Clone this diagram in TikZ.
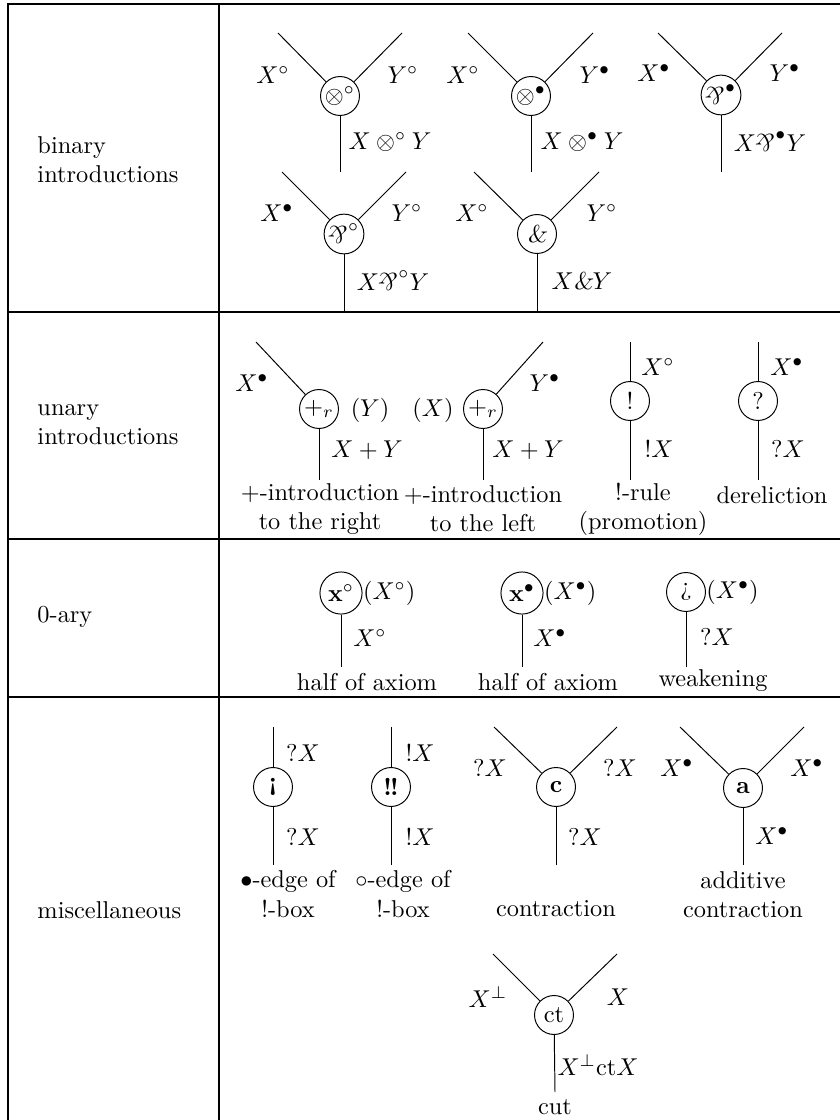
\documentclass[tikz,border=0pt]{standalone}
\usepackage{amssymb}
\usepackage{graphicx}
\newcommand{\myparr}{\mathord{\rotatebox[origin=c]{180}{\textsl{\&}}}}
\newcommand{\mywith}{\mathord{\textsl{\&}}}
\begin{document}
\begin{tikzpicture}[x=0.4107pt,y=-0.4107pt,
  cell/.style={draw,circle,minimum size=16pt,inner sep=0.5pt},
  bigcell/.style={cell,minimum size=17.3pt},
  lbl/.style={inner sep=0pt},
  captxt/.style={inner sep=0pt,align=center},
  rowlbl/.style={inner sep=0pt,align=left,anchor=west},
  rule/.style={line width=0.5pt}]
\useasboundingbox (0,0) rectangle (840,1120);
% table
\coordinate (tl) at (8,4); \coordinate (tr) at (840,4);
\coordinate (bl) at (8,1120); \coordinate (sept) at (219,4); \coordinate (sepb) at (219,1120);
\draw[rule] (tr) -- (tl) -- (bl);
\draw[rule] (sept) -- (sepb);
\coordinate (h1l) at (8,312); \coordinate (h1r) at (840,312);
\coordinate (h2l) at (8,539); \coordinate (h2r) at (840,539);
\coordinate (h3l) at (8,697); \coordinate (h3r) at (840,697);
\draw[rule] (h1l) -- (h1r); \draw[rule] (h2l) -- (h2r); \draw[rule] (h3l) -- (h3r);
% row labels
\node[rowlbl] (r1) at (37,160) {binary\\introductions};
\node[rowlbl] (r2) at (37,425) {unary\\introductions};
\node[rowlbl] (r3) at (37,617) {0-ary};
\node[rowlbl] (r4) at (37,910) {miscellaneous};
% ---- binary, first line
\node[cell] (a1) at (340,96) {$\otimes^\circ$};
\coordinate (a1l) at (278,33); \coordinate (a1r) at (402,33); \coordinate (a1b) at (340,172);
\draw (a1l) -- (a1); \draw (a1r) -- (a1); \draw (a1) -- (a1b);
\node[lbl] (a1x) at (273,75) {$X^\circ$};
\node[lbl] (a1y) at (403,75) {$Y^\circ$};
\node[lbl] (a1t) at (390,142) {$X\otimes^\circ Y$};
\node[cell] (a2) at (531,96) {$\otimes^\bullet$};
\coordinate (a2l) at (468,33); \coordinate (a2r) at (593,33); \coordinate (a2b) at (531,172);
\draw (a2l) -- (a2); \draw (a2r) -- (a2); \draw (a2) -- (a2b);
\node[lbl] (a2x) at (463,75) {$X^\circ$};
\node[lbl] (a2y) at (595,75) {$Y^\bullet$};
\node[lbl] (a2t) at (582,142) {$X\otimes^\bullet Y$};
\node[cell] (a3) at (721,95) {$\myparr^\bullet$};
\coordinate (a3l) at (658,33); \coordinate (a3r) at (782,33); \coordinate (a3b) at (721,172);
\draw (a3l) -- (a3); \draw (a3r) -- (a3); \draw (a3) -- (a3b);
\node[lbl] (a3x) at (654,73) {$X^\bullet$};
\node[lbl] (a3y) at (785,73) {$Y^\bullet$};
\node[lbl] (a3t) at (770,142) {$X\myparr^\bullet Y$};
% ---- binary, second line
\node[cell] (b1) at (344,234) {$\myparr^\circ$};
\coordinate (b1l) at (282,172); \coordinate (b1r) at (406,172); \coordinate (b1b) at (344,312);
\draw (b1l) -- (b1); \draw (b1r) -- (b1); \draw (b1) -- (b1b);
\node[lbl] (b1x) at (277,213) {$X^\bullet$};
\node[lbl] (b1y) at (407,213) {$Y^\circ$};
\node[lbl] (b1t) at (393,281) {$X\myparr^\circ Y$};
\node[cell] (b2) at (537,234) {$\mywith$};
\coordinate (b2l) at (474,172); \coordinate (b2r) at (599,172); \coordinate (b2b) at (537,312);
\draw (b2l) -- (b2); \draw (b2r) -- (b2); \draw (b2) -- (b2b);
\node[lbl] (b2x) at (472,213) {$X^\circ$};
\node[lbl] (b2y) at (602,213) {$Y^\circ$};
\node[lbl] (b2t) at (582,281) {$X\mywith Y$};
% ---- unary
\node[cell] (u1) at (319,409) {$+_r$};
\coordinate (u1l) at (256,342); \coordinate (u1b) at (319,480);
\draw (u1l) -- (u1); \draw (u1) -- (u1b);
\node[lbl] (u1x) at (252,383) {$X^\bullet$};
\node[lbl] (u1y) at (370,410) {$(Y)$};
\node[lbl] (u1t) at (367,450) {$X+Y$};
\node[captxt] (u1c) at (320,509) {$+$-introduction\\to the right};
\node[cell] (u2) at (483,409) {$+_r$};
\coordinate (u2r) at (543,342); \coordinate (u2b) at (483,480);
\draw (u2r) -- (u2); \draw (u2) -- (u2b);
\node[lbl] (u2y) at (545,383) {$Y^\bullet$};
\node[lbl] (u2x) at (433,410) {$(X)$};
\node[lbl] (u2t) at (528,450) {$X+Y$};
\node[captxt] (u2c) at (483,509) {$+$-introduction\\to the left};
\node[cell] (u3) at (630,401) {!};
\coordinate (u3t) at (630,342); \coordinate (u3b) at (630,480);
\draw (u3t) -- (u3); \draw (u3) -- (u3b);
\node[lbl] (u3x) at (658,367) {$X^\circ$};
\node[lbl] (u3l) at (659,449) {$!X$};
\node[captxt] (u3c) at (643,509) {!-rule\\(promotion)};
\node[cell] (u4) at (758,401) {?};
\coordinate (u4t) at (758,342); \coordinate (u4b) at (758,480);
\draw (u4t) -- (u4); \draw (u4) -- (u4b);
\node[lbl] (u4x) at (787,367) {$X^\bullet$};
\node[lbl] (u4l) at (788,449) {$?X$};
\node[captxt] (u4c) at (772,495) {dereliction};
% ---- 0-ary
\node[bigcell] (z1) at (341,593) {$\mathbf{x}^\circ$};
\coordinate (z1b) at (341,667);
\draw (z1) -- (z1b);
\node[lbl,anchor=west] (z1p) at (z1.east) {$(X^\circ)$};
\node[lbl] (z1l) at (370,638) {$X^\circ$};
\node[captxt] (z1c) at (367,682) {half of axiom};
\node[bigcell] (z2) at (522,593) {$\mathbf{x}^\bullet$};
\coordinate (z2b) at (522,667);
\draw (z2) -- (z2b);
\node[lbl,anchor=west] (z2p) at (z2.east) {$(X^\bullet)$};
\node[lbl] (z2l) at (550,638) {$X^\bullet$};
\node[captxt] (z2c) at (548,682) {half of axiom};
\node[cell] (z3) at (686,592) {¿};
\coordinate (z3b) at (686,667);
\draw (z3) -- (z3b);
\node[lbl,anchor=west] (z3p) at (z3.east) {$(X^\bullet)$};
\node[lbl] (z3l) at (717,637) {$?X$};
\node[captxt] (z3c) at (713,681) {weakening};
% ---- miscellaneous
\node[cell] (m1) at (273,787) {\textbf{¡}};
\coordinate (m1t) at (273,727); \coordinate (m1b) at (273,865);
\draw (m1t) -- (m1); \draw (m1) -- (m1b);
\node[lbl] (m1x) at (303,753) {$?X$};
\node[lbl] (m1y) at (303,837) {$?X$};
\node[captxt] (m1c) at (288,894) {$\bullet$-edge of\\!-box};
\node[cell] (m2) at (391,787) {\textbf{!\kern-0.8pt!}};
\coordinate (m2t) at (391,727); \coordinate (m2b) at (391,865);
\draw (m2t) -- (m2); \draw (m2) -- (m2b);
\node[lbl] (m2x) at (420,753) {$!X$};
\node[lbl] (m2y) at (420,837) {$!X$};
\node[captxt] (m2c) at (403,894) {$\circ$-edge of\\!-box};
\node[cell] (m3) at (556,787) {$\mathbf{c}$};
\coordinate (m3l) at (494,727); \coordinate (m3r) at (617,727); \coordinate (m3b) at (556,865);
\draw (m3l) -- (m3); \draw (m3r) -- (m3); \draw (m3) -- (m3b);
\node[lbl] (m3x) at (490,768) {$?X$};
\node[lbl] (m3y) at (620,768) {$?X$};
\node[lbl] (m3t) at (585,837) {$?X$};
\node[captxt] (m3c) at (556,909) {contraction};
\node[cell] (m4) at (743,788) {$\mathbf{a}$};
\coordinate (m4l) at (680,727); \coordinate (m4r) at (804,727); \coordinate (m4b) at (743,865);
\draw (m4l) -- (m4); \draw (m4r) -- (m4); \draw (m4) -- (m4b);
\node[lbl] (m4x) at (677,768) {$X^\bullet$};
\node[lbl] (m4y) at (807,768) {$X^\bullet$};
\node[lbl] (m4t) at (772,836) {$X^\bullet$};
\node[captxt] (m4c) at (743,895) {additive\\contraction};
\node[cell] (m5) at (554,1015) {ct};
\coordinate (m5l) at (493,954); \coordinate (m5r) at (617,954); \coordinate (m5b) at (555,1092);
\draw (m5l) -- (m5); \draw (m5r) -- (m5); \draw (m5) -- (m5b);
\node[lbl] (m5x) at (488,997) {$X^\perp$};
\node[lbl] (m5y) at (618,997) {$X$};
\node[lbl] (m5t) at (598,1065) {$X^\perp\mathrm{ct}X$};
\node[captxt] (m5c) at (555,1107) {cut};
\end{tikzpicture}
\end{document}
